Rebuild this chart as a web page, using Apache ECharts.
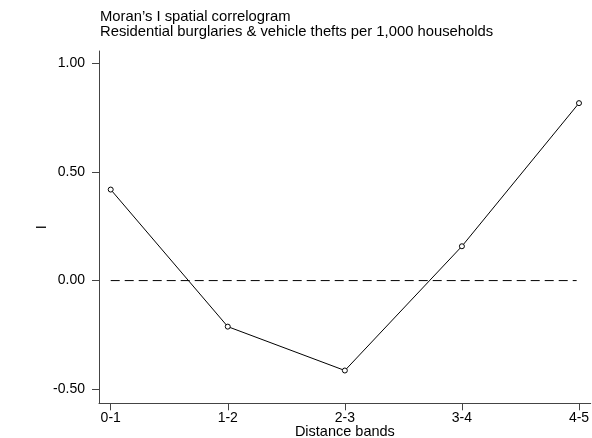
<!DOCTYPE html>
<html>
<head>
<meta charset="utf-8">
<script src="https://cdn.jsdelivr.net/npm/echarts@6/dist/echarts.min.js"></script>
<style>
  html, body { margin: 0; padding: 0; background: #fff; }
  #chart { width: 592px; height: 438px; }
</style>
</head>
<body>
<div id="chart"></div>
<script>
  const bands = ['0-1', '1-2', '2-3', '3-4', '4-5'];
  const moranI = [0.419, -0.212, -0.414, 0.158, 0.817];
  const yTicks = [-0.5, 0, 0.5, 1];
  const refLevel = 0;

  const font = '"Liberation Sans", Arial, Helvetica, sans-serif';
  const chart = echarts.init(document.getElementById('chart'), null, { renderer: 'canvas' });

  chart.setOption({
    animation: false,
    backgroundColor: '#fff',
    title: {
      text: 'Moran\u2019s I spatial correlogram\nResidential burglaries & vehicle thefts per 1,000 households',
      left: 100, top: 9, padding: 0,
      textStyle: { fontFamily: font, fontSize: 14.8, fontWeight: 'normal', color: '#000', lineHeight: 15 }
    },
    grid: { left: 99, right: 1.3, top: 51, bottom: 34.7, outerBoundsMode: 'none', containLabel: false },
    xAxis: {
      type: 'value',
      min: -0.1, max: 4.1,
      name: 'Distance bands',
      nameLocation: 'middle', nameGap: 21, nameMoveOverlap: false,
      nameTextStyle: { fontFamily: font, fontSize: 14.5, color: '#000' },
      axisLine: { show: true, onZero: false, lineStyle: { color: '#444', width: 1 } },
      axisTick: { show: true, length: 7, lineStyle: { color: '#444' }, customValues: bands.map((b, i) => i) },
      axisLabel: {
        fontFamily: font, fontSize: 14, color: '#000', margin: 8,
        customValues: bands.map((b, i) => i),
        formatter: v => bands[Math.round(v)]
      },
      splitLine: { show: false }
    },
    yAxis: {
      type: 'value',
      min: -0.565, max: 1.057,
      name: 'I',
      nameLocation: 'middle', nameGap: 50, nameRotate: 90, nameMoveOverlap: false,
      nameTextStyle: { fontFamily: font, fontSize: 14.5, color: '#000' },
      axisLine: { show: true, onZero: false, lineStyle: { color: '#444', width: 1 } },
      axisTick: { show: true, length: 7, lineStyle: { color: '#444' }, customValues: yTicks },
      axisLabel: {
        fontFamily: font, fontSize: 14, color: '#000', margin: 14,
        customValues: yTicks,
        formatter: v => v.toFixed(2)
      },
      splitLine: { show: false }
    },
    series: [
      {
        type: 'line',
        data: [[0, refLevel], [bands.length - 1 - 0.02, refLevel]],
        symbol: 'none',
        lineStyle: { color: '#000', width: 1, type: [9, 5] },
        silent: true
      },
      {
        type: 'line',
        data: moranI.map((v, i) => [i, v]),
        symbol: 'circle',
        symbolSize: 5,
        itemStyle: { color: '#fff', borderColor: '#000', borderWidth: 1 },
        lineStyle: { color: '#000', width: 1 }
      }
    ]
  });
</script>
</body>
</html>
